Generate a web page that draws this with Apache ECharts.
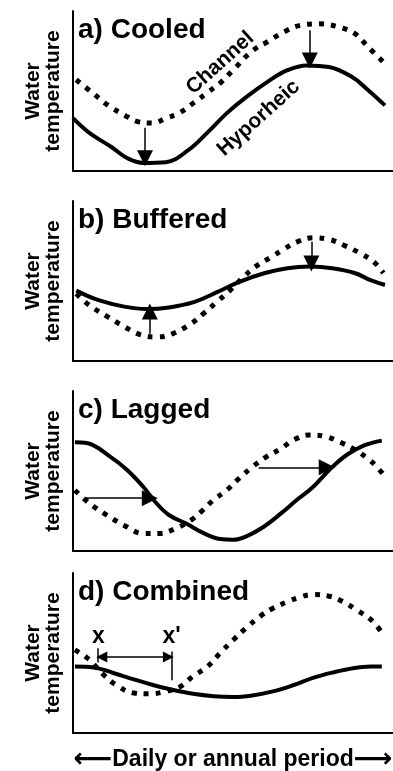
<!DOCTYPE html>
<html>
<head>
<meta charset="utf-8">
<title>Hyporheic temperature patterns</title>
<script src="https://cdn.jsdelivr.net/npm/echarts@6.0.0/dist/echarts.min.js"></script>
<style>
  html, body { margin: 0; padding: 0; background: #fff; }
  #chart { width: 393px; height: 771px; }
</style>
</head>
<body>
<div id="chart"></div>
<script>
// panel names
var panelTitles = ['a) Cooled', 'b) Buffered', 'c) Lagged', 'd) Combined']

// x = position in the period (0-100), y = relative water temperature (0-100)
var cooledChannel = [[1,57],[6,49],[11,41],[16,35],[20,31],[25,30],[29,33],[33,36],[38,43],[42,49],[46,55],[50,63],[56,75],[61,81],[66,87],[71,91],[77,92],[83,90],[88,86],[92,78],[97,68]]
var cooledHyporheic = [[0,33],[5,24],[12,15],[17,8],[22,5],[29,5.5],[36,13],[42,24],[48,36],[54,46],[61,56],[67,63],[73,66],[80,65],[87,59],[92,51],[97.5,41]]

var bufferedChannel = [[1,42],[5,35],[10.5,28],[16,21.5],[21,16.5],[26,15],[31,17],[37,23.5],[41,30],[45,37],[49,44],[53,52],[57,59],[62,65],[66,70],[70,74.5],[75,77],[80,76],[84.5,72.5],[90,67],[94,62],[97,55]]
var bufferedHyporheic = [[1,44],[8,38],[16,34],[23,32.5],[30,33.5],[38,37],[45,43],[52,49.5],[60,55],[67,58],[74,59],[81,58],[88,55],[93,50.5],[97.5,47.5]]

var laggedChannel = [[0.6,38],[5,30],[10.5,22.5],[16,16],[22,11],[27,11],[32,14],[37,19.5],[40,24.5],[44,32],[48,38],[52,45.5],[56,52.5],[60.5,59],[65,64],[69,69.5],[74,72.5],[79,71.5],[83.5,68],[87.5,64],[92,58],[95,52.5],[97.5,46.5]]
var laggedHyporheic = [[0.6,68],[4.3,67.5],[11.6,59],[17,50.5],[22,40],[26,30],[30,22.5],[35.5,17],[41,11],[46,7.5],[50,7],[54,9],[59.5,15],[65,23.5],[70,32],[75,40],[80,50.5],[85.5,60],[91,66],[96.5,69]]

var combinedChannel = [[0.6,52],[5,46],[9,37.5],[13.5,30],[19,25],[24,24.5],[29,26],[33.5,29],[37.5,35.5],[42,41.5],[46,50],[50,58],[54,65.5],[58.5,73],[62.5,78],[67,82],[71,85],[75,86.5],[80,85.5],[84.5,82],[88.5,77],[93,71],[97,61.5]]
var combinedHyporheic = [[0.6,41.5],[6.4,41],[12.6,37.5],[19,33.5],[25,30],[31,27],[37.5,24.5],[44,23],[50,22.5],[56,23.5],[62.5,26],[69,30],[75,34.5],[81.5,38],[87.5,40.5],[93,41.5],[96.5,41.5]]

// arrows: [from, to] in the same units
var cooledArrows = [[[22.5,27],[22.5,8]], [[74,88],[74,69]]]
var bufferedArrows = [[[24,17],[24,31]], [[74.5,74.5],[74.5,61]]]
var laggedArrows = [[[3.8,33],[24,33]], [[58,52.3],[79.3,52.3]]]
var combinedTicks = [[[7.7,53],[7.7,44]], [[30.8,51],[30.8,33]]]
var combinedSpan = [[9,47.5],[29.8,47.5]]

// text anchors
var curveNames = ['Channel', 'Hyporheic']
var curveNameAt = [[46,67.5], [58,33]]
var markNames = ['x', "x'"]
var markNameAt = [[7.9,60], [30.8,60]]

var channelSeries = [cooledChannel, bufferedChannel, laggedChannel, combinedChannel]
var hyporheicSeries = [cooledHyporheic, bufferedHyporheic, laggedHyporheic, combinedHyporheic]
var arrowSets = [cooledArrows, bufferedArrows, laggedArrows, []]

var FONT = 'Liberation Sans, Arial, sans-serif'
var gridTops = [11, 201, 391, 573]

var myChart = echarts.init(document.getElementById('chart'), null, { renderer: 'canvas' })

var grids = [], xAxes = [], yAxes = [], titles = [], series = []

var blackLabel = {
    show: true, position: 'inside', formatter: '{b}', color: '#000',
    textBorderWidth: 0, opacity: 1, fontFamily: FONT, fontWeight: 'bold'
}

gridTops.forEach(function (top, i) {
    grids.push({ left: 73, right: 0, top: top, height: 160, containLabel: false, outerBoundsMode: 'none' })
    xAxes.push({
        gridIndex: i, type: 'value', min: 0, max: 100,
        axisLine: { show: true, onZero: false, lineStyle: { color: '#000', width: 2 } },
        axisTick: { show: false }, axisLabel: { show: false }, splitLine: { show: false },
        name: i === 3 ? '{arr|\u27f5}Daily or annual period{arr|\u27f6}' : '',
        nameLocation: 'middle', nameGap: 13,
        nameTextStyle: {
            color: '#000', fontFamily: FONT, fontWeight: 'bold', fontSize: 23,
            rich: { arr: { fontFamily: 'DejaVu Sans', fontWeight: 'bold', fontSize: 27, color: '#000' } }
        }
    })
    yAxes.push({
        gridIndex: i, type: 'value', min: 0, max: 100,
        axisLine: { show: true, onZero: false, lineStyle: { color: '#000', width: 2 } },
        axisTick: { show: false }, axisLabel: { show: false }, splitLine: { show: false },
        name: 'Water\ntemperature', nameLocation: 'middle', nameRotate: 90, nameGap: 10,
        nameTextStyle: { color: '#000', fontFamily: FONT, fontWeight: 'bold', fontSize: 21, lineHeight: 20 }
    })
    titles.push({
        text: panelTitles[i], left: 78, top: top + 5, padding: 0,
        textStyle: { color: '#000', fontFamily: FONT, fontWeight: 'bold', fontSize: 28 }
    })

    series.push({
        name: 'Channel', type: 'line', xAxisIndex: i, yAxisIndex: i,
        data: channelSeries[i], smooth: 0.4, showSymbol: false, silent: true,
        lineStyle: { color: '#000', width: 5, type: [5, 7], cap: 'butt' }
    })
    series.push({
        name: 'Hyporheic', type: 'line', xAxisIndex: i, yAxisIndex: i,
        data: hyporheicSeries[i], smooth: 0.4, showSymbol: false, silent: true,
        lineStyle: { color: '#000', width: 4 }
    })
    if (arrowSets[i].length) {
        series.push({
            type: 'lines', coordinateSystem: 'cartesian2d', xAxisIndex: i, yAxisIndex: i,
            symbol: ['none', 'triangle'], symbolSize: 16, silent: true,
            itemStyle: { color: '#000' },
            lineStyle: { color: '#000', width: 1.5, opacity: 1 },
            data: arrowSets[i].map(function (a) { return { coords: a } })
        })
    }
})

// curve names on panel a
series.push({
    type: 'scatter', xAxisIndex: 0, yAxisIndex: 0, symbolSize: 0, silent: true,
    itemStyle: { color: '#000', opacity: 1 },
    data: curveNameAt.map(function (p, k) { return { value: p, name: curveNames[k] } }),
    label: Object.assign({}, blackLabel, { rotate: 42, fontSize: 21 })
})

// x and x' markers on panel d
series.push({
    type: 'lines', coordinateSystem: 'cartesian2d', xAxisIndex: 3, yAxisIndex: 3,
    symbol: 'none', silent: true,
    lineStyle: { color: '#000', width: 1.5, opacity: 1 },
    data: combinedTicks.map(function (a) { return { coords: a } })
})
series.push({
    type: 'lines', coordinateSystem: 'cartesian2d', xAxisIndex: 3, yAxisIndex: 3,
    symbol: ['triangle', 'triangle'], symbolSize: 11, silent: true,
    itemStyle: { color: '#000' },
    lineStyle: { color: '#000', width: 1.5, opacity: 1 },
    data: [{ coords: combinedSpan }]
})
series.push({
    type: 'scatter', xAxisIndex: 3, yAxisIndex: 3, symbolSize: 0, silent: true,
    itemStyle: { color: '#000', opacity: 1 },
    data: markNameAt.map(function (p, k) { return { value: p, name: markNames[k] } }),
    label: Object.assign({}, blackLabel, { fontSize: 23 })
})

myChart.setOption({
    animation: false,
    backgroundColor: '#fff',
    title: titles,
    grid: grids,
    xAxis: xAxes,
    yAxis: yAxes,
    series: series
})

window.onresize = function () {
    myChart.resize()
}
</script>
</body>
</html>
